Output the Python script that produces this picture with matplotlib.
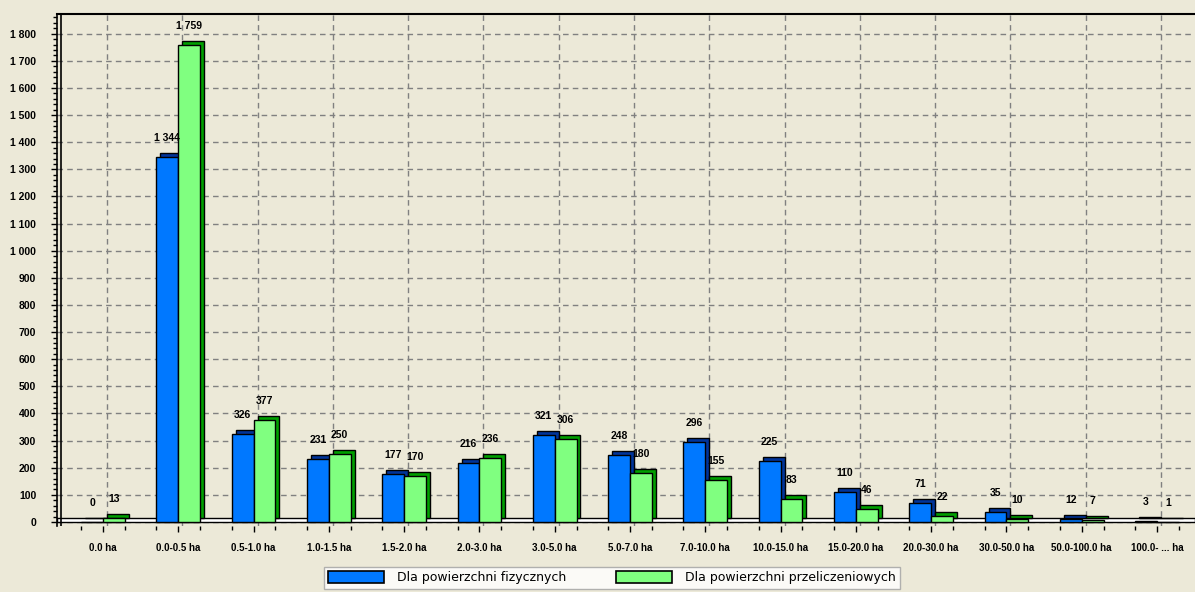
import numpy as np
import matplotlib.pyplot as plt
from matplotlib.ticker import MultipleLocator, FuncFormatter
from matplotlib.patches import Patch

# -------- DATA ----------
categories = ["0.0 ha", "0.0-0.5 ha", "0.5-1.0 ha", "1.0-1.5 ha", "1.5-2.0 ha",
              "2.0-3.0 ha", "3.0-5.0 ha", "5.0-7.0 ha", "7.0-10.0 ha", "10.0-15.0 ha",
              "15.0-20.0 ha", "20.0-30.0 ha", "30.0-50.0 ha", "50.0-100.0 ha", "100.0- ... ha"]
fizyczne = [0, 1344, 326, 231, 177, 216, 321, 248, 296, 225, 110, 71, 35, 12, 3]
przeliczeniowe = [13, 1759, 377, 250, 170, 236, 306, 180, 155, 83, 46, 22, 10, 7, 1]

series_names = ["Dla powierzchni fizycznych", "Dla powierzchni przeliczeniowych"]

# -------- STYLE ----------
bg = "#ECE9D8"
blue, blue_dark = "#0078FF", "#00349A"
green, green_dark = "#80FF80", "#00A000"
small_font = ["Liberation Sans", "DejaVu Sans"]

fig = plt.figure(figsize=(11.95, 5.92), dpi=100, facecolor=bg)
ax = fig.add_axes([0.0477, 0.1115, 0.952, 0.8649], facecolor=bg)

x = np.arange(len(categories))
w = 0.29
dx, dy = 0.053, 14.7   # fake 3D depth

ax.set_xlim(-0.61, 14.5)
ax.set_ylim(-15, 1873)

# floor
ax.axhspan(0, dy, facecolor="white", edgecolor="black", lw=1, zorder=1)

# grid on back wall
for xi in x:
    ax.axvline(xi + dx, color="#808080", lw=1, ls=(0, (4, 3)), zorder=0.5)
ax.yaxis.grid(True, color="#808080", lw=1, ls=(0, (4, 3)), zorder=0.5)
ax.set_axisbelow(True)

# bars: dark back faces, then the front faces
ax.bar(x - w / 2 + dx, fizyczne, w, bottom=dy, color=blue_dark, edgecolor="black", lw=1, zorder=3)
ax.bar(x - w / 2, fizyczne, w, color=blue, edgecolor="black", lw=1, zorder=4)
ax.bar(x + w / 2 + dx, przeliczeniowe, w, bottom=dy, color=green_dark, edgecolor="black", lw=1, zorder=5)
ax.bar(x + w / 2, przeliczeniowe, w, color=green, edgecolor="black", lw=1, zorder=6)


def fmt(v, pos=None):
    return f"{int(v):,}".replace(",", " ")


for xi, a, b in zip(x, fizyczne, przeliczeniowe):
    ax.text(xi - w / 2, a + 70, fmt(a), ha="center", va="center",
            fontsize=7.5, family=small_font, fontweight="bold", zorder=8)
    ax.text(xi + w / 2, b + 70, fmt(b), ha="center", va="center",
            fontsize=7.5, family=small_font, fontweight="bold", zorder=8)

# axes / ticks
ax.yaxis.set_major_locator(MultipleLocator(100))
ax.yaxis.set_minor_locator(MultipleLocator(20))
ax.yaxis.set_major_formatter(FuncFormatter(fmt))
ax.set_xticks(x)
ax.set_xticklabels(categories)
ax.set_xticks(np.concatenate([x - w, x + w]), minor=True)
ax.tick_params(axis="both", which="major", length=4, width=1, direction="out")
ax.tick_params(axis="both", which="minor", length=3, width=1, direction="out")
ax.tick_params(axis="y", pad=11)
ax.tick_params(axis="x", pad=8)
for lab in ax.get_xticklabels():
    lab.set_fontsize(7)
    lab.set_fontweight("bold")
    lab.set_family(small_font)
for lab in ax.get_yticklabels():
    lab.set_fontsize(7.5)
    lab.set_fontweight("bold")
    lab.set_family(small_font)

for s in ["right", "bottom"]:
    ax.spines[s].set_visible(False)
ax.spines["left"].set_linewidth(1.2)
ax.spines["top"].set_linewidth(1.5)
ax.axvline(ax.get_xlim()[0] + dx, color="black", lw=1.2, zorder=2)

# legend
handles = [Patch(facecolor=blue, edgecolor="black", lw=1.2),
           Patch(facecolor=green, edgecolor="black", lw=1.2)]
leg = fig.legend(handles, series_names, loc="center", bbox_to_anchor=(0.512, 0.024),
                 ncol=2, fontsize=9, frameon=True, fancybox=False, handlelength=4.5,
                 handleheight=1.0, handletextpad=1.0, columnspacing=4.0,
                 borderpad=0.35, borderaxespad=0)
leg.get_frame().set_facecolor("white")
leg.get_frame().set_edgecolor("#A0A0A0")
leg.get_frame().set_linewidth(1)

fig.savefig("out.png", dpi=100, facecolor=bg)
